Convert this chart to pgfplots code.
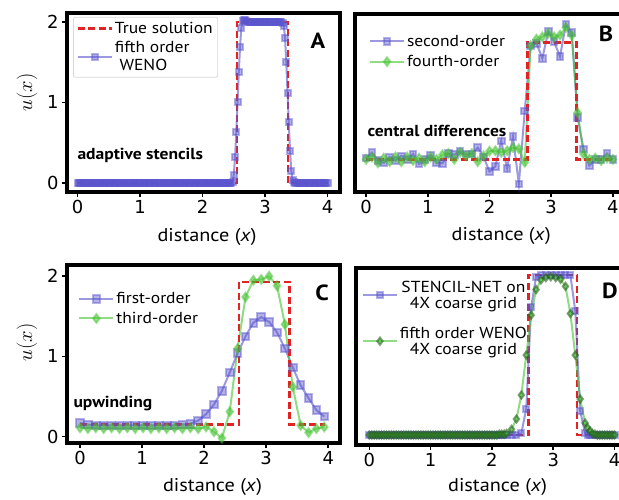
\documentclass[border=0pt]{standalone}
\usepackage{fontspec}
\setmainfont{PT Sans}[FakeStretch=1.1]
\newfontfamily\dejavu{DejaVu Sans}
\usepackage{pgfplots}
\pgfplotsset{compat=1.18}
\definecolor{cblue}{RGB}{90,85,205}
\definecolor{cgreen}{RGB}{70,195,50}
\definecolor{cred}{RGB}{225,35,35}
\newcommand{\lgfont}{\fontsize{16}{18}\selectfont}
\pgfplotsset{
 panel/.style={
  scale only axis,
  axis line style={line width=3.2bp},
  tick align=outside,
  major tick length=5bp,
  tick style={black, line width=1.5bp},
  xtick pos=bottom, ytick pos=left,
  xtick={0,1,2,3,4},
  tick label style={font=\dejavu\fontsize{18}{18}\selectfont},
  /pgf/number format/assume math mode=true,
  xlabel style={font=\fontsize{18.5}{18.5}\selectfont},
  ylabel style={font=\fontsize{20}{20}\selectfont},
  xlabel={distance (\textit{x})},
  legend cell align=left,
  legend image code/.code={\draw[mark repeat=2,mark phase=2] plot coordinates {(0bp,0bp) (17bp,0bp) (34bp,0bp)};},
 },
 bl/.style={color=cblue, line width=2bp, draw opacity=0.6, mark=square*, mark size=3.3bp, mark options={solid, fill=cblue, fill opacity=0.45, draw opacity=0.45}},
 gr/.style={color=cgreen, line width=2bp, draw opacity=0.6, mark=diamond*, mark size=4.3bp, mark options={solid, fill=cgreen, fill opacity=0.5, draw opacity=0.5}},
 rd/.style={color=cred, line width=2.5bp, dash pattern=on 7bp off 3.5bp},
}
\pgfplotstableread{
x b g
0.000 0.010 0.000
0.095 0.057 0.020
0.190 -0.010 -0.030
0.286 -0.030 0.010
0.381 0.020 -0.020
0.476 -0.010 0.020
0.571 0.030 -0.020
0.667 0.000 0.020
0.762 0.046 -0.010
0.857 -0.040 0.010
0.952 0.000 -0.020
1.048 0.037 0.020
1.143 -0.030 0.000
1.238 -0.034 0.040
1.333 0.050 0.050
1.429 0.040 0.000
1.524 0.070 0.060
1.619 0.046 0.030
1.714 0.046 0.050
1.810 0.100 -0.020
1.905 0.020 0.030
2.000 -0.105 0.070
2.095 -0.060 0.074
2.190 0.157 0.060
2.286 -0.077 0.074
2.381 0.194 0.100
2.476 -0.210 0.090
2.571 0.414 -0.026
2.667 0.970 0.974
2.762 0.994 1.030
2.857 0.866 1.050
2.952 1.094 1.080
3.048 1.009 1.050
3.143 0.880 1.065
3.238 1.160 1.130
3.333 1.086 1.065
3.429 0.360 0.400
3.524 0.090 0.046
3.619 -0.054 0.000
3.714 0.000 0.010
3.810 0.000 -0.010
3.905 0.050 0.010
4.000 0.000 0.000
}\tabB
\pgfplotstableread{
x b g
0.000 0.17 0.11
0.127 0.15 0.10
0.254 0.14 0.11
0.381 0.14 0.10
0.508 0.14 0.11
0.635 0.14 0.10
0.762 0.14 0.11
0.889 0.14 0.10
1.016 0.14 0.11
1.143 0.14 0.10
1.270 0.14 0.11
1.397 0.14 0.10
1.524 0.14 0.11
1.651 0.15 0.10
1.778 0.16 0.11
1.905 0.20 0.10
2.032 0.28 0.12
2.159 0.40 0.06
2.286 0.57 -0.02
2.413 0.80 0.31
2.540 1.04 1.10
2.667 1.25 1.74
2.794 1.42 1.95
2.921 1.49 1.96
3.048 1.43 2.00
3.175 1.30 1.88
3.302 1.10 1.40
3.429 0.86 0.62
3.556 0.64 0.14
3.683 0.48 0.05
3.810 0.33 0.10
3.937 0.25 0.12
}\tabC
\pgfplotstableread{
x b g
0.00 0 0
0.04 0 0
0.08 0 0
0.12 0 0
0.16 0 0
0.20 0 0
0.24 0 0
0.28 0 0
0.32 0 0
0.36 0 0
0.40 0 0
0.44 0 0
0.48 0 0
0.52 0 0
0.56 0 0
0.60 0 0
0.64 0 0
0.68 0 0
0.72 0 0
0.76 0 0
0.80 0 0
0.84 0 0
0.88 0 0
0.92 0 0
0.96 0 0
1.00 0 0
1.04 0 0
1.08 0 0
1.12 0 0
1.16 0 0
1.20 0 0
1.24 0 0
1.28 0 0
1.32 0 0
1.36 0 0
1.40 0 0
1.44 0 0
1.48 0 0
1.52 0 0
1.56 0 0
1.60 0 0
1.64 0 0
1.68 0 0
1.72 0 0
1.76 0 0
1.80 0 0
1.84 0 0
1.88 0 0
1.92 0 0
1.96 0 0
2.00 0 0
2.04 0 0
2.08 0 0
2.12 0 0.01
2.16 0 0.01
2.20 0 0.01
2.24 0 0.02
2.32 0 0.07
2.40 0 0.20
2.48 0.02 0.50
2.56 0.33 1.00
2.64 1.60 1.50
2.72 1.98 1.82
2.80 2.00 1.94
2.88 2.00 1.97
2.96 2.00 1.98
3.04 2.00 1.97
3.12 2.00 1.95
3.20 2.00 1.86
3.28 2.00 1.52
3.36 1.55 1.00
3.44 0.30 0.45
3.52 0.02 0.15
3.56 0 0.09
3.60 0 0.05
3.64 0 0.02
3.68 0 0.01
3.72 0 0
3.76 0 0
3.80 0 0
3.84 0 0
3.88 0 0
3.92 0 0
3.96 0 0
4.00 0 0
}\tabD
\begin{document}
\begin{tikzpicture}
\useasboundingbox (0,0) rectangle (619bp,-500bp);
\clip (0,0) rectangle (619bp,-500bp);
% ---------- A
\begin{axis}[panel, at={(67bp,-192bp)}, anchor=south west, width=273bp, height=179bp,
 xmin=-0.17, xmax=4.2, ymin=-0.115, ymax=2.11, ytick={0,1,2}, ylabel={$u(x)$},
 ylabel style={at={(axis description cs:-0.147,0.556)}, anchor=center},
 xlabel style={at={(axis description cs:0.513,-0.274)}, anchor=base},
 legend style={at={(axis description cs:0.022,0.978)}, anchor=north west, draw=black!15, rounded corners=2bp, line width=0.8bp, font=\lgfont, cells={align=left, font=\lgfont}, inner sep=3bp, row sep=2.5bp}]
\addplot[rd] coordinates {(0,0)(2.555,0)(2.555,2)(3.365,2)(3.365,0)(4,0)};
\addlegendentry{True solution}
\addplot[bl, mark size=3bp] coordinates {
(0,0)(0.02,0)(0.04,0)(0.06,0)(0.08,0)(0.1,0)(0.12,0)(0.14,0)(0.16,0)(0.18,0)
(0.2,0)(0.22,0)(0.24,0)(0.26,0)(0.28,0)(0.3,0)(0.32,0)(0.34,0)(0.36,0)(0.38,0)
(0.4,0)(0.42,0)(0.44,0)(0.46,0)(0.48,0)(0.5,0)(0.52,0)(0.54,0)(0.56,0)(0.58,0)
(0.6,0)(0.62,0)(0.64,0)(0.66,0)(0.68,0)(0.7,0)(0.72,0)(0.74,0)(0.76,0)(0.78,0)
(0.8,0)(0.82,0)(0.84,0)(0.86,0)(0.88,0)(0.9,0)(0.92,0)(0.94,0)(0.96,0)(0.98,0)
(1.0,0)(1.02,0)(1.04,0)(1.06,0)(1.08,0)(1.1,0)(1.12,0)(1.14,0)(1.16,0)(1.18,0)
(1.2,0)(1.22,0)(1.24,0)(1.26,0)(1.28,0)(1.3,0)(1.32,0)(1.34,0)(1.36,0)(1.38,0)
(1.4,0)(1.42,0)(1.44,0)(1.46,0)(1.48,0)(1.5,0)(1.52,0)(1.54,0)(1.56,0)(1.58,0)
(1.6,0)(1.62,0)(1.64,0)(1.66,0)(1.68,0)(1.7,0)(1.72,0)(1.74,0)(1.76,0)(1.78,0)
(1.8,0)(1.82,0)(1.84,0)(1.86,0)(1.88,0)(1.9,0)(1.92,0)(1.94,0)(1.96,0)(1.98,0)
(2.0,0)(2.02,0)(2.04,0)(2.06,0)(2.08,0)(2.1,0)(2.12,0)(2.14,0)(2.16,0)(2.18,0)
(2.2,0)(2.22,0)(2.24,0)(2.26,0)(2.28,0)(2.3,0)(2.32,0)(2.34,0)(2.36,0)(2.38,0)
(2.4,0)(2.42,0)(2.44,0)(2.46,0)
(2.48,0.01)(2.50,0.1)(2.52,0.32)(2.54,0.63)(2.56,1.0)(2.58,1.38)(2.60,1.69)(2.62,1.92)(2.64,2.01)(2.66,2.02)(2.68,2.02)(2.70,2.01)
(2.72,2)(2.74,2)(2.76,2)(2.78,2)(2.8,2)(2.82,2)(2.84,2)(2.86,2)(2.88,2)(2.9,2)(2.92,2)(2.94,2)(2.96,2)(2.98,2)
(3.0,2)(3.02,2)(3.04,2)(3.06,2)(3.08,2)(3.1,2)(3.12,2)(3.14,2)(3.16,2)(3.18,2)(3.2,2)(3.22,2)(3.24,2)(3.26,2)(3.28,1.99)
(3.30,1.95)(3.32,1.80)(3.34,1.50)(3.36,1.12)(3.38,0.75)(3.40,0.40)(3.42,0.15)(3.44,0.04)(3.46,0.01)(3.48,0)
(3.5,0)(3.52,0)(3.54,0)(3.56,0)(3.58,0)(3.6,0)(3.62,0)(3.64,0)(3.66,0)(3.68,0)(3.7,0)(3.72,0)(3.74,0)(3.76,0)(3.78,0)
(3.8,0)(3.82,0)(3.84,0)(3.86,0)(3.88,0)(3.9,0)(3.92,0)(3.94,0)(3.96,0)(3.98,0)(4.0,0)};
\addlegendentry{fifth order\\\ WENO}
\end{axis}
% ---------- B
\begin{axis}[panel, at={(355bp,-192bp)}, anchor=south west, width=285bp, height=178bp,
 xmin=-0.18, xmax=4.44, ymin=-0.28, ymax=1.246, ytick=\empty,
 xlabel style={at={(axis description cs:0.513,-0.274)}, anchor=base},
 legend style={at={(axis description cs:0.038,0.905)}, anchor=north west, draw=none, fill=none, font=\lgfont, row sep=3.5bp}]
\addplot[bl] table[x=x,y=b] {\tabB};
\addlegendentry{second-order}
\addplot[gr] table[x=x,y=g] {\tabB};
\addlegendentry{fourth-order}
\addplot[rd, forget plot] coordinates {(0,0)(2.62,0)(2.62,1)(3.41,1)(3.41,0)(4,0)};
\end{axis}
% ---------- C
\begin{axis}[panel, at={(67bp,-443bp)}, anchor=south west, width=273bp, height=178bp,
 xmin=-0.21, xmax=4.19, ymin=-0.08, ymax=2.14, ytick={0,1,2}, ylabel={$u(x)$},
 ylabel style={at={(axis description cs:-0.147,0.565)}, anchor=center},
 xlabel style={at={(axis description cs:0.533,-0.274)}, anchor=base},
 legend style={at={(axis description cs:0.03,0.87)}, anchor=north west, draw=none, fill=none, font=\lgfont, row sep=3bp}]
\addplot[bl, mark size=3.8bp] table[x=x,y=b] {\tabC};
\addlegendentry{first-order}
\addplot[gr] table[x=x,y=g] {\tabC};
\addlegendentry{third-order}
\addplot[rd, forget plot] coordinates {(0,0.15)(2.56,0.15)(2.56,1.93)(3.38,1.93)(3.38,0.15)(3.95,0.15)};
\end{axis}
% ---------- D
\begin{axis}[panel, at={(356bp,-445bp)}, anchor=south west, width=276bp, height=177bp,
 xmin=-0.217, xmax=4.285, ymin=-0.125, ymax=2.09, ytick=\empty,
 xlabel style={at={(axis description cs:0.513,-0.264)}, anchor=base},
 legend cell align=center,
 legend style={at={(axis description cs:0.01,0.95)}, anchor=north west, draw=none, fill=none, font=\lgfont, cells={align=center, font=\fontsize{16}{16}\selectfont}, row sep=13bp}]
\addplot[rd, forget plot] coordinates {(0,0)(2.60,0)(2.60,2)(3.39,2)(3.39,0)(4,0)};
\addplot[bl, mark size=3bp] table[x=x,y=b] {\tabD};
\addlegendentry{STENCIL-NET on\\4X coarse grid}
\addplot[gr, mark size=3.6bp, mark options={solid, fill=cgreen, fill opacity=0.55, draw=cgreen!45!black, draw opacity=0.55}] table[x=x,y=g] {\tabD};
\addlegendentry{fifth order WENO\\4X coarse grid}
\end{axis}
% ---------- annotations
\node[anchor=west, font=\bfseries\fontsize{16}{16}\selectfont] at (74bp,-155bp) {adaptive stencils};
\node[anchor=west, font=\bfseries\fontsize{16}{16}\selectfont] at (364bp,-131bp) {central differences};
\node[anchor=west, font=\bfseries\fontsize{16}{16}\selectfont] at (70bp,-404bp) {upwinding};
\node[font=\bfseries\fontsize{22}{22}\selectfont] at (318bp,-41bp) {A};
\node[font=\bfseries\fontsize{22}{22}\selectfont] at (606bp,-34bp) {B};
\node[font=\bfseries\fontsize{22}{22}\selectfont] at (322bp,-293bp) {C};
\node[font=\bfseries\fontsize{22}{22}\selectfont] at (610bp,-291bp) {D};
\end{tikzpicture}
\end{document}
